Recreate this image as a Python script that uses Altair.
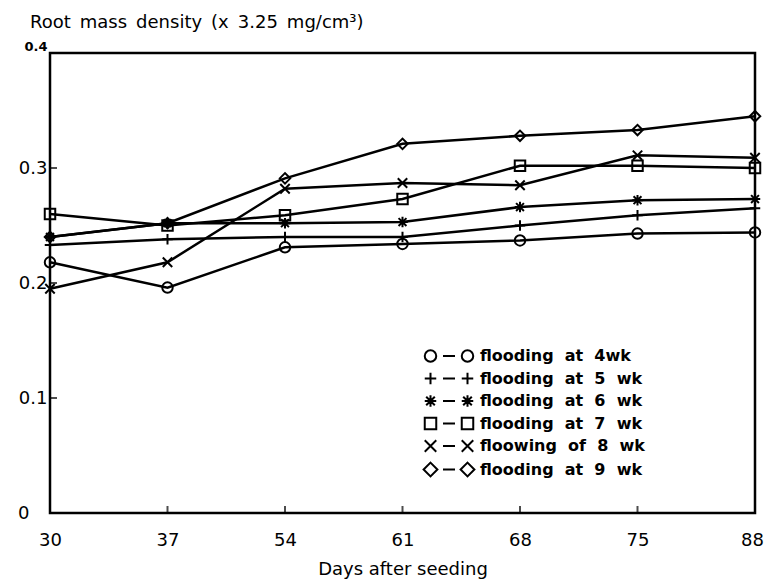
import altair as alt
import pandas as pd

days = [30, 37, 54, 61, 68, 75, 88]
labels = ["flooding\u00a0 at\u00a0 4wk", "flooding\u00a0 at\u00a0 5\u00a0 wk", "flooding\u00a0 at\u00a0 6\u00a0 wk",
          "flooding\u00a0 at\u00a0 7\u00a0 wk", "floowing\u00a0 of\u00a0 8\u00a0 wk", "flooding\u00a0 at\u00a0 9\u00a0 wk"]
w4 = [0.218, 0.196, 0.231, 0.234, 0.237, 0.243, 0.244]
w5 = [0.233, 0.238, 0.240, 0.240, 0.250, 0.259, 0.265]
w6 = [0.240, 0.252, 0.252, 0.253, 0.266, 0.272, 0.273]
w7 = [0.260, 0.250, 0.259, 0.273, 0.302, 0.302, 0.300]
w8 = [0.195, 0.218, 0.282, 0.287, 0.285, 0.311, 0.309]
w9 = [0.240, 0.252, 0.291, 0.321, 0.328, 0.333, 0.345]
series = [w4, w5, w6, w7, w8, w9]
x_ticks = [37, 54, 61, 68, 75]
y_ticks = [0.1, 0.2, 0.3]

rows = []
for lab, vals in zip(labels, series):
    for d, v in zip(days, vals):
        rows.append({"day": d, "value": v, "series": lab})
df = pd.DataFrame(rows)

# marker shapes for the plot
plus = "M-1,0H1M0,-1V1"
xshape = "M-0.9,-0.9L0.9,0.9M-0.9,0.9L0.9,-0.9"
aster = "M-1,0H1M0,-1V1M-0.75,-0.75L0.75,0.75M-0.75,0.75L0.75,-0.75"
plot_shapes = ["circle", plus, aster, "square", xshape, "diamond"]


def f(v):
    return f"{v:.2f}"


def circ(cx, r):
    return (f"M{f(cx - r)},0A{f(r)},{f(r)} 0 1 0 {f(cx + r)},0"
            f"A{f(r)},{f(r)} 0 1 0 {f(cx - r)},0Z")


def sq(cx, r):
    return f"M{f(cx - r)},{f(-r)}H{f(cx + r)}V{f(r)}H{f(cx - r)}Z"


def dia(cx, r):
    return f"M{f(cx)},{f(-r)}L{f(cx + r)},0L{f(cx)},{f(r)}L{f(cx - r)},0Z"


def pl(cx, r):
    return f"M{f(cx - r)},0H{f(cx + r)}M{f(cx)},{f(-r)}V{f(r)}"


def xx(cx, r):
    return f"M{f(cx - r)},{f(-r)}L{f(cx + r)},{f(r)}M{f(cx - r)},{f(r)}L{f(cx + r)},{f(-r)}"


def ast(cx, r):
    d = r * 0.75
    return pl(cx, r) + f"M{f(cx - d)},{f(-d)}L{f(cx + d)},{f(d)}M{f(cx - d)},{f(d)}L{f(cx + d)},{f(-d)}"


C = 3.7
R = 1.15
dash = "M-1.2,0H1.2"
legend_shapes = [circ(-C, R) + dash + circ(C, R),
                 pl(-C, R) + dash + pl(C, R),
                 ast(-C, R) + dash + ast(C, R),
                 sq(-C, R) + dash + sq(C, R),
                 xx(-C, R) + dash + xx(C, R),
                 dia(-C, R * 1.2) + dash + dia(C, R * 1.2)]

FONT = "DejaVu Sans"

xscale = alt.Scale(type="point", padding=0, domain=days)
yscale = alt.Scale(domain=[0, 0.4], nice=False, zero=True)

xaxis = alt.Axis(title="Days after seeding", labelAngle=0, domain=False,
                 ticks=False, labelFontSize=18, labelFont=FONT,
                 labelPadding=18, labelFlush=False,
                 labelOffset={"condition": {"test": "datum.value == 88", "value": -3}, "value": 0},
                 titleFontSize=18, titleFont=FONT,
                 titleFontWeight="normal", titlePadding=11,
                 labelColor="black", titleColor="black")
yaxis = alt.Axis(title=None, values=[0, 0.1, 0.2, 0.3, 0.4], domain=False,
                 ticks=False, grid=False, labelFont=FONT,
                 labelFontSize={"condition": {"test": "datum.value == 0.4", "value": 13},
                                "value": 18},
                 labelFontWeight={"condition": {"test": "datum.value == 0.4", "value": "bold"},
                                  "value": "normal"},
                 labelBaseline={"condition": {"test": "datum.value == 0.4", "value": "bottom"},
                                "value": "middle"},
                 labelPadding={"condition": {"test": "datum.value == 0", "value": 21},
                               "value": 3},
                 labelExpr="datum.value == 0 ? '0' : format(datum.value, '.1f')",
                 labelColor="black")

xenc = alt.X("day:O", scale=xscale, axis=xaxis)
yenc = alt.Y("value:Q", scale=yscale, axis=yaxis)

base = alt.Chart(df)

lines = base.mark_line(color="black", strokeWidth=2.5).encode(
    x=xenc, y=yenc, detail="series:N")

points = base.mark_point(filled=False, color="black", strokeWidth=2, size=110, opacity=1).encode(
    x=xenc, y=yenc,
    shape=alt.Shape("series:N", scale=alt.Scale(domain=labels, range=plot_shapes), legend=None))

legend_layer = base.mark_point(filled=False, color="black", opacity=0, size=100).encode(
    x=xenc, y=yenc,
    shape=alt.Shape("series:N", scale=alt.Scale(domain=labels, range=legend_shapes),
                    legend=alt.Legend(title=None, orient="none", legendX=391, legendY=295,
                                      padding=0, symbolSize=100, symbolOpacity=1,
                                      symbolStrokeColor="black", symbolFillColor="transparent",
                                      symbolStrokeWidth=2, labelFont=FONT, labelFontSize=16,
                                      labelFontWeight="bold", labelOffset=23, rowPadding=2.5,
                                      labelColor="black", labelLimit=300)))

xt = pd.DataFrame({"day": x_ticks, "value": [0] * len(x_ticks)})
yt = pd.DataFrame({"day": [30] * len(y_ticks), "value": y_ticks})
xtick_layer = alt.Chart(xt).mark_tick(orient="vertical", size=7, thickness=2,
                                      color="black", yOffset=-3.5).encode(
    x=xenc, y=yenc)
ytick_layer = alt.Chart(yt).mark_tick(orient="horizontal", size=7, thickness=2,
                                      color="black", xOffset=3.5).encode(
    x=xenc, y=yenc)

chart = alt.layer(lines, points, legend_layer, xtick_layer, ytick_layer).resolve_scale(
    shape="independent").properties(
    width=705, height=460, background="white",
    title=alt.TitleParams("Root\u2002mass\u2002density\u2002(x\u20023.25\u2002mg/cm\u00b3)",
                          anchor="start", frame="group", dx=-20, dy=6, offset=0,
                          baseline="alphabetic", font=FONT, fontSize=18,
                          fontWeight="normal", color="black"),
    autosize=alt.AutoSizeParams(type="none"),
    padding={"left": 50, "top": 53, "right": 9, "bottom": 70},
).configure_view(stroke="black", strokeWidth=2.5)

chart.save("out.html", embed_options={"renderer": "svg", "actions": False})
